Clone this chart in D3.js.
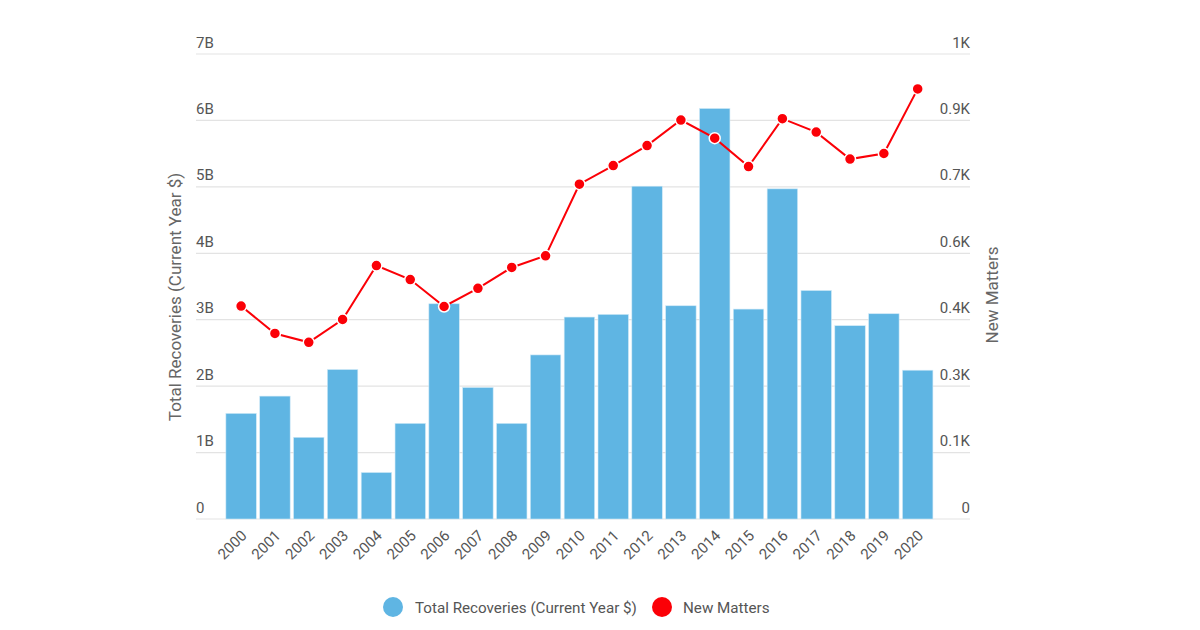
<!DOCTYPE html>
<html><head><meta charset="utf-8">
<script src="https://cdn.jsdelivr.net/npm/d3@7"></script>
<style>
body{margin:0;background:#fff;}
svg{font-family:Roboto, "Noto Sans", sans-serif;}
</style></head>
<body><svg id="c" width="1200" height="630"></svg>
<script>
const years = ["2000","2001","2002","2003","2004","2005","2006","2007","2008","2009","2010","2011","2012","2013","2014","2015","2016","2017","2018","2019","2020"];
const recoveries = [1.59,1.85,1.23,2.25,0.70,1.44,3.24,1.98,1.44,2.47,3.04,3.08,5.01,3.21,6.18,3.16,4.97,3.44,2.91,3.09,2.24]; // billions
const newMatters = [458,399,380,429,545,515,457,496,541,566,720,760,803,858,819,758,861,832,774,786,925];
const leftTicks = [0,1,2,3,4,5,6,7];
const leftTickLabels = ["0","1B","2B","3B","4B","5B","6B","7B"];
const rightTickLabels = ["0","0.1K","0.3K","0.4K","0.6K","0.7K","0.9K","1K"];
const seriesNames = ["Total Recoveries (Current Year $)","New Matters"];

(function(){
const svg = d3.select("#c");
const pL = 196, pR = 970, pT = 54, pB = 519;
const x = d3.scaleBand().domain(years).range([222.5, 936.3]).paddingInner(0.1).paddingOuter(0.1);
const yL = d3.scaleLinear().domain([0,7]).range([pB, pT]);
const yR = d3.scaleLinear().domain([0,1000]).range([pB, pT]);
const blue = "#5fb5e3", red = "#fb0007";
const tc = "#555", fs = 15;

svg.append("g").selectAll("line").data(leftTicks).join("line")
  .attr("x1", pL).attr("x2", pR)
  .attr("y1", d=>yL(d)).attr("y2", d=>yL(d))
  .attr("stroke", "#e3e3e3").attr("stroke-width", 1.2);

svg.append("g").selectAll("text").data(leftTicks).join("text")
  .attr("x", pL).attr("y", d=>yL(d)-6.5)
  .attr("fill",tc).attr("font-size",fs)
  .text((d,i)=>leftTickLabels[i]);
svg.append("g").selectAll("text").data(leftTicks).join("text")
  .attr("x", pR).attr("y", d=>yL(d)-6.5).attr("text-anchor","end")
  .attr("fill",tc).attr("font-size",fs)
  .text((d,i)=>rightTickLabels[i]);

svg.append("g").selectAll("rect").data(years).join("rect")
  .attr("x", d=>x(d)).attr("width", x.bandwidth())
  .attr("y", (d,i)=>yL(recoveries[i])).attr("height",(d,i)=>pB - yL(recoveries[i]))
  .attr("fill", blue).attr("stroke","#cfe9f7").attr("stroke-width",0.6);

svg.append("g").selectAll("text").data(years).join("text")
  .attr("transform", d=>`translate(${x(d)+x.bandwidth()/2-1},${529}) rotate(-45)`)
  .attr("text-anchor","end").attr("dy","0.72em")
  .attr("fill",tc).attr("font-size",fs)
  .text(d=>d);

const cx = d=>x(d)+x.bandwidth()/2;
const line = d3.line().x((d,i)=>cx(years[i])).y(d=>yR(d));
svg.append("path").datum(newMatters).attr("d", line)
  .attr("fill","none").attr("stroke", red).attr("stroke-width",2);
svg.append("g").selectAll("circle").data(newMatters).join("circle")
  .attr("cx",(d,i)=>cx(years[i])).attr("cy", d=>yR(d)).attr("r",5.5)
  .attr("fill", red).attr("stroke","#fff").attr("stroke-width",1.5);

svg.append("text").attr("transform",`translate(181,297) rotate(-90)`)
  .attr("text-anchor","middle").attr("fill","#666").attr("font-size",17)
  .text(seriesNames[0]);
svg.append("text").attr("transform",`translate(998,295) rotate(-90)`)
  .attr("text-anchor","middle").attr("fill","#666").attr("font-size",17)
  .text(seriesNames[1]);

const lg = svg.append("g");
lg.append("circle").attr("cx",393).attr("cy",607).attr("r",10).attr("fill",blue);
lg.append("text").attr("x",415).attr("y",612.5).attr("fill",tc).attr("font-size",15.2).text(seriesNames[0]);
lg.append("circle").attr("cx",662).attr("cy",607).attr("r",10).attr("fill",red);
lg.append("text").attr("x",683).attr("y",612.5).attr("fill",tc).attr("font-size",15.2).text(seriesNames[1]);
})();
</script></body></html>
